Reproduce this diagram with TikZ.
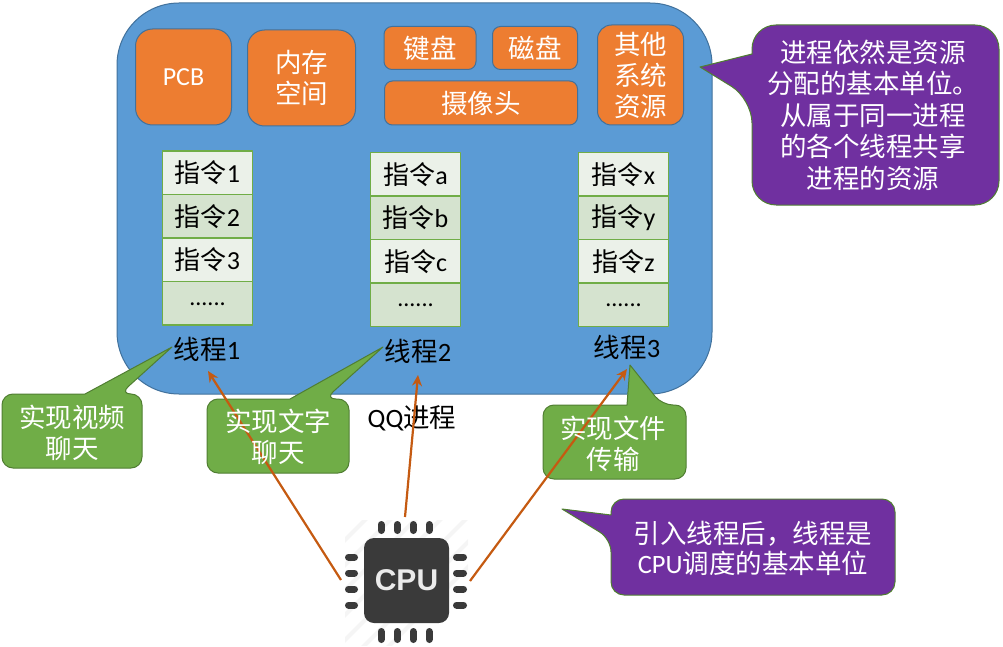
\documentclass[tikz,border=0pt]{standalone}
\usepackage{fontspec}
\usetikzlibrary{arrows.meta}
\setmainfont{Carlito}
\newfontfamily\cjk{Noto Sans CJK SC}
\newfontfamily\chipfont{Liberation Sans}
\newcommand{\zh}[1]{{\cjk #1}}
\definecolor{procblue}{HTML}{5B9BD5}
\definecolor{procedge}{HTML}{41719C}
\definecolor{resorange}{HTML}{ED7D31}
\definecolor{greenfill}{HTML}{70AD47}
\definecolor{greenedge}{HTML}{507E32}
\definecolor{purplefill}{HTML}{7030A0}
\definecolor{cellpale}{HTML}{EBF1E9}
\definecolor{celldark}{HTML}{D5E3CF}
\definecolor{arrowred}{HTML}{C55A11}
\definecolor{chipgrey}{HTML}{3A3A3A}
\tikzset{
  resbox/.style={draw=procedge,line width=1pt,fill=resorange,rounded corners=#1,text=white,font=\fontsize{26.5}{31}\selectfont,align=center,inner sep=0pt,outer sep=0pt},
  cell/.style={draw=greenfill,line width=1.3pt,fill=#1,minimum width=90pt,minimum height=43.5pt,inner sep=0pt,outer sep=0pt,font=\fontsize{26}{30}\selectfont},
  threadlabel/.style={font=\fontsize{26.5}{30}\selectfont,inner sep=0pt},
  tipnote/.style={text=white,font=\fontsize{26.5}{31}\selectfont,align=center,inner sep=0pt},
  greenbub/.style={draw=greenedge,fill=greenfill,line width=1pt},
  purplebub/.style={draw=greenedge,fill=purplefill,line width=1pt},
  runarrow/.style={draw=arrowred,line width=2.2pt,-{Stealth[length=11pt,width=10pt]}},
  pin/.style={chipgrey,line width=7pt,line cap=round},
}
\begin{document}
\begin{tikzpicture}[x=1pt,y=-1pt,line join=round]
    \useasboundingbox (0,0) rectangle (1003,647);
    % process block
    \draw[draw=procedge,fill=procblue,line width=1pt,rounded corners=62pt] (117,3) rectangle (712,394);
    % resources
    \node[resbox=17pt,minimum width=96pt,minimum height=96pt] (pcb) at (183.5,77) {\fontsize{26}{30}\selectfont PCB};
    \node[resbox=17pt,minimum width=108pt,minimum height=96pt] (mem) at (301.5,78) {\zh{内存}\\\zh{空间}};
    \node[resbox=8pt,minimum width=92pt,minimum height=43pt] (keyb) at (430,48) {\zh{键盘}};
    \node[resbox=8pt,minimum width=85pt,minimum height=43pt] (disk) at (535,48) {\zh{磁盘}};
    \node[resbox=8pt,minimum width=193pt,minimum height=44pt] (cam) at (481,103) {\zh{摄像头}};
    \node[resbox=14pt,minimum width=86pt,minimum height=100pt] (other) at (640.5,75) {\zh{其他}\\\zh{系统}\\\zh{资源}};
    % instruction columns
    \foreach \col/\xc/\yc/\a/\b/\c in {A/207.5/151/1/2/3,B/415.5/152.5/a/b/c,C/623.5/152.5/x/y/z}{
        \node[cell=cellpale,anchor=north] (\col1) at (\xc,\yc) {\zh{指令}\a};
        \node[cell=celldark,anchor=north] (\col2) at (\col1.south) {\zh{指令}\b};
        \node[cell=cellpale,anchor=north] (\col3) at (\col2.south) {\zh{指令}\c};
        \node[cell=celldark,anchor=north] (\col4) at (\col3.south) {\raisebox{-4pt}{\fontsize{24}{28}\selectfont ......}};
    }
    % labels
    \node[threadlabel] (t1) at (207,349) {\zh{线程}1};
    \node[threadlabel] (t2) at (418,351) {\zh{线程}2};
    \node[threadlabel] (t3) at (627,347) {\zh{线程}3};
    \node[threadlabel] (qq) at (412,418) {QQ\zh{进程}};
    % green notes
    \draw[greenbub,rounded corners=11pt] (85,394) -- (2,394) -- (2,468) -- (142,468) -- (142,394) -- (120,394)
        [sharp corners] -- (172,347) -- cycle;
    \draw[greenbub,rounded corners=11pt] (290,399) -- (207,399) -- (207,473) -- (349,473) -- (349,399) -- (325,399)
        [sharp corners] -- (383,347) -- cycle;
    \draw[greenbub,rounded corners=11pt] (627,405) -- (543,405) -- (543,479) -- (686,479) -- (686,405) -- (662,405)
        [sharp corners] -- (630,365) -- cycle;
    % purple notes
    \draw[purplebub,rounded corners=24pt] (752,54) -- (752,25) -- (999,25) -- (999,205) -- (752,205) -- (752,99)
        [sharp corners] -- (700,67) -- cycle;
    \draw[purplebub,rounded corners=13pt] (611,515) -- (611,499) -- (895,499) -- (895,595) -- (611,595) -- (611,539)
        [sharp corners] -- (562,509) -- cycle;
    % chip
    \begin{scope}
        \clip (345,520) rectangle (468,645);
        \foreach \s in {860,885,910,935,960,985,1010,1035}{
            \draw[black!4,line width=4pt] (\s-200,200) -- (\s-700,700);
        }
    \end{scope}
    \node[fill=chipgrey,rounded corners=10pt,minimum width=85pt,minimum height=85pt,text=white!92!black,inner sep=0pt,font=\chipfont\fontsize{30}{30}\bfseries\selectfont] (cpu) at (406.5,580.5) {CPU};
    \foreach \d in {-24,-8,8,24}{
        \draw[pin] (405+\d,524.5) -- (405+\d,530.5);
        \draw[pin] (405+\d,631.5) -- (405+\d,639.5);
        \draw[pin] (348.5,581+\d) -- (354.5,581+\d);
        \draw[pin] (456.5,581+\d) -- (463.5,581+\d);
    }
    \coordinate (cpuleft) at (341,580);
    \coordinate (cputop) at (405,517);
    \coordinate (cpuright) at (470,581);
    \coordinate (t1in) at (208,371);
    \coordinate (t2in) at (418,375);
    \coordinate (t3in) at (627,369);
    % scheduling arrows
    \draw[runarrow] (cpuleft) -- (t1in);
    \draw[runarrow] (cputop) -- (t2in);
    \draw[runarrow] (cpuright) -- (t3in);
    % note texts
    \node[tipnote] (video) at (72,433) {\zh{实现视频}\\\zh{聊天}};
    \node[tipnote] (text) at (278,437) {\zh{实现文字}\\\zh{聊天}};
    \node[tipnote] (file) at (613,444) {\zh{实现文件}\\\zh{传输}};
    \node[tipnote,font=\fontsize{26.5}{31.5}\selectfont] (share) at (873,115) {\zh{进程依然是资源}\\\zh{分配的基本单位。}\\\zh{从属于同一进程}\\\zh{的各个线程共享}\\\zh{进程的资源}};
    \node[tipnote,font=\fontsize{26.5}{30}\selectfont] (basic) at (753,548) {\zh{引入线程后，线程是}\\CPU\zh{调度的基本单位}};
\end{tikzpicture}
\end{document}
